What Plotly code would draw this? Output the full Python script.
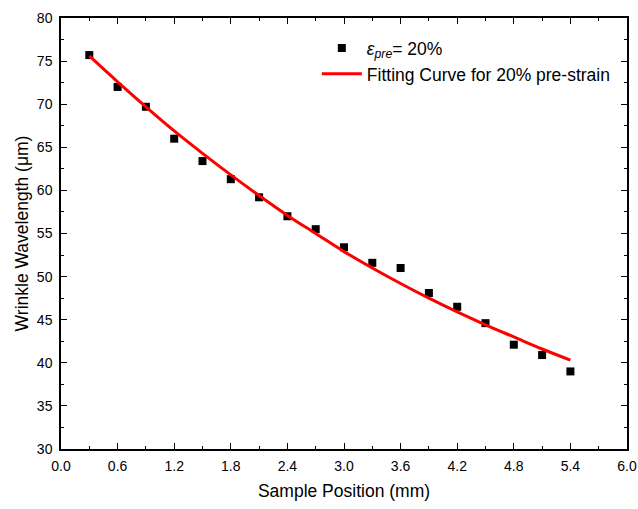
import plotly.graph_objects as go

positions = [0.3, 0.6, 0.9, 1.2, 1.5, 1.8, 2.1, 2.4, 2.7, 3.0, 3.3, 3.6, 3.9, 4.2, 4.5, 4.8, 5.1, 5.4]
wavelengths = [75.7, 72.0, 69.7, 66.0, 63.4, 61.3, 59.2, 57.0, 55.5, 53.4, 51.6, 51.0, 48.1, 46.5, 44.6, 42.1, 40.9, 39.0]

fit_x = [0.3, 0.6, 0.9, 1.2, 1.5, 1.8, 2.1, 2.4, 2.7, 3.0, 3.3, 3.6, 3.9, 4.2, 4.5, 4.8, 5.1, 5.4]
fit_y = [75.6, 72.6, 69.7, 66.9, 64.3, 61.8, 59.4, 57.1, 55.0, 52.9, 51.0, 49.2, 47.5, 45.9, 44.4, 43.0, 41.6, 40.3]

x_ticks = [0.0, 0.6, 1.2, 1.8, 2.4, 3.0, 3.6, 4.2, 4.8, 5.4, 6.0]
y_ticks = [30, 35, 40, 45, 50, 55, 60, 65, 70, 75, 80]

FONT = "Liberation Sans, Arial"

fig = go.Figure()
fig.add_trace(go.Scatter(
    x=positions, y=wavelengths, mode="markers",
    marker=dict(symbol="square", size=8, color="black"),
    name="<i>ε<sub>pre</sub></i>= 20%",
))
fig.add_trace(go.Scatter(
    x=fit_x, y=fit_y, mode="lines",
    line=dict(color="red", width=3, shape="spline"),
    name="Fitting Curve for 20% pre-strain",
))

axis_common = dict(
    showline=True, linecolor="black", linewidth=1.5, mirror="ticks",
    ticks="inside", ticklen=6, tickwidth=1.2, tickcolor="black",
    showgrid=False, zeroline=False, automargin=False,
    tickfont=dict(family=FONT, size=14, color="black"),
)

fig.update_xaxes(
    range=[0, 6], tickvals=x_ticks, ticktext=[f"{v:.1f}" for v in x_ticks],
    minor=dict(ticks="inside", ticklen=3, dtick=0.3, tick0=0, tickcolor="black"),
    title=dict(text="Sample Position (mm)", font=dict(family=FONT, size=17.5, color="black"), standoff=12),
    ticklabelstandoff=3, ticklabeloverflow="allow",
    **axis_common,
)
fig.update_yaxes(
    range=[30, 80], tickvals=y_ticks, ticktext=[str(v) for v in y_ticks],
    minor=dict(ticks="inside", ticklen=3, dtick=2.5, tick0=30, tickcolor="black"),
    title=dict(text="Wrinkle Wavelength (μm)", font=dict(family=FONT, size=17.5, color="black"), standoff=4),
    ticklabelstandoff=4,
    **axis_common,
)

fig.update_layout(
    width=638, height=509,
    margin=dict(l=61, r=11, t=18, b=60),
    paper_bgcolor="white", plot_bgcolor="white",
    font=dict(family=FONT, size=14, color="black"),
    legend=dict(x=0.452, y=0.972, xanchor="left", yanchor="top", itemwidth=40,
                bgcolor="rgba(0,0,0,0)", font=dict(family=FONT, size=17.5, color="black")),
    showlegend=True,
)

# remove the default page margin and scrollbars so the figure fills the window exactly
fig.write_html(
    "out.html",
    config={"displayModeBar": False},
    post_script="document.documentElement.style.overflow='hidden';"
                "document.body.style.margin='0';document.body.style.overflow='hidden';",
)
